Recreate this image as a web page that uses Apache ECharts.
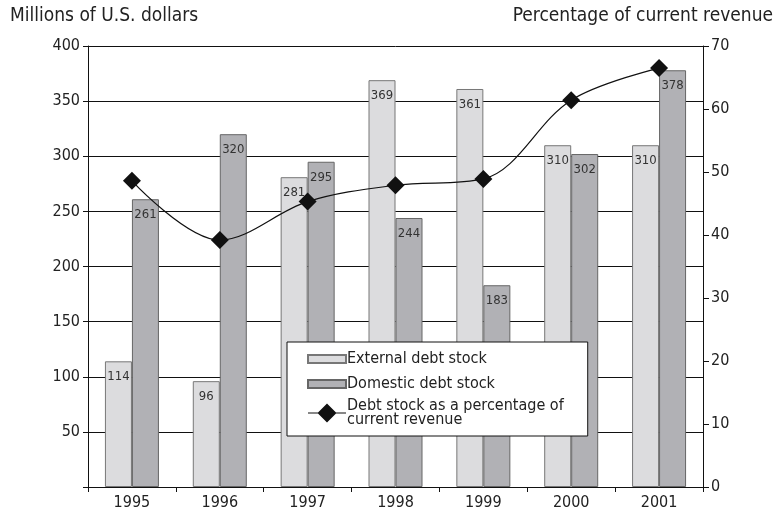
<!DOCTYPE html>
<html>
<head>
<meta charset="utf-8">
<script src="https://cdn.jsdelivr.net/npm/echarts@6/dist/echarts.min.js"></script>
<style>
  html, body { margin: 0; padding: 0; background: #fff; }
  #chart { width: 784px; height: 517px; }
</style>
</head>
<body>
<div id="chart"></div>
<script>
  var years = ['1995', '1996', '1997', '1998', '1999', '2000', '2001'];
  var externalDebt = [114, 96, 281, 369, 361, 310, 310];
  var domesticDebt = [261, 320, 295, 244, 183, 302, 378];
  var debtPctRevenue = [48.6, 39.2, 45.3, 47.9, 48.9, 61.4, 66.5];

  var FONT = '"Liberation Sans Narrow", "DejaVu Sans Condensed", sans-serif';
  var chart = echarts.init(document.getElementById('chart'));

  var barLabel = {
    show: true,
    position: 'insideTop',
    distance: 9,
    color: '#333',
    fontFamily: FONT,
    fontSize: 13
  };
  // legend icons: thin bar swatch / line with big diamond
  var barIcon = 'path://M0,0M0,6H38V14H0ZM38,20';
  var lineIcon = 'path://M0,9.4H10L19,0.4L28,9.4H38V10.6H28L19,19.6L10,10.6H0Z';

  chart.setOption({
    backgroundColor: '#fff',
    animation: false,
    textStyle: { fontFamily: FONT },
    title: [
      { text: 'Millions of U.S. dollars', left: 5, top: 2,
        textStyle: { fontFamily: FONT, fontSize: 19, fontWeight: 'normal', color: '#222' } },
      { text: 'Percentage of current revenue', right: 6, top: 2,
        textStyle: { fontFamily: FONT, fontSize: 19, fontWeight: 'normal', color: '#222' } }
    ],
    grid: { left: 88, right: 81, top: 46, bottom: 30 },
    legend: {
      orient: 'vertical',
      left: 287, top: 342,
      padding: [6, 24, 8, 20],
      itemGap: 3,
      itemWidth: 38,
      itemHeight: 20,
      backgroundColor: '#fff',
      borderColor: '#111',
      borderWidth: 1,
      textStyle: { fontFamily: FONT, fontSize: 16, color: '#222', padding: [0, 0, 0, -4], lineHeight: 14 },
      data: [
        { name: 'External debt stock', icon: barIcon },
        { name: 'Domestic debt stock', icon: barIcon },
        { name: 'Debt stock as a percentage of\ncurrent revenue', icon: lineIcon }
      ]
    },
    xAxis: {
      type: 'category',
      data: years,
      axisLine: { lineStyle: { color: '#111' } },
      axisTick: { show: true, length: 5, lineStyle: { color: '#111' } },
      axisLabel: { color: '#222', fontSize: 16, fontFamily: FONT, margin: 8 }
    },
    yAxis: [
      {
        type: 'value', min: 0, max: 400, interval: 50,
        axisLine: { show: true, lineStyle: { color: '#111' } },
        axisTick: { show: true, length: 5, lineStyle: { color: '#111' } },
        axisLabel: { color: '#222', fontSize: 16, fontFamily: FONT, margin: 8,
          formatter: function (v) { return v === 0 ? '' : v; } },
        splitLine: { show: true, lineStyle: { color: '#111', width: 1 } }
      },
      {
        type: 'value', min: 0, max: 70, interval: 10,
        axisLine: { show: true, lineStyle: { color: '#111' } },
        axisTick: { show: true, length: 6, lineStyle: { color: '#111' } },
        axisLabel: { color: '#222', fontSize: 16, fontFamily: FONT, margin: 8 },
        splitLine: { show: false }
      }
    ],
    series: [
      {
        name: 'External debt stock',
        type: 'bar',
        data: externalDebt,
        barWidth: 27,
        barGap: '0%',
        itemStyle: { color: '#dcdcde', borderColor: '#777', borderWidth: 1 },
        label: barLabel
      },
      {
        name: 'Domestic debt stock',
        type: 'bar',
        data: domesticDebt,
        barWidth: 27,
        barGap: '0%',
        itemStyle: { color: '#b1b1b5', borderColor: '#666', borderWidth: 1 },
        label: barLabel
      },
      {
        name: 'Debt stock as a percentage of\ncurrent revenue',
        type: 'line',
        yAxisIndex: 1,
        data: debtPctRevenue,
        smooth: 0.35,
        symbol: 'diamond',
        symbolSize: 18,
        lineStyle: { color: '#111', width: 1.2 },
        itemStyle: { color: '#111' },
        z: 5
      }
    ]
  });
</script>
</body>
</html>
